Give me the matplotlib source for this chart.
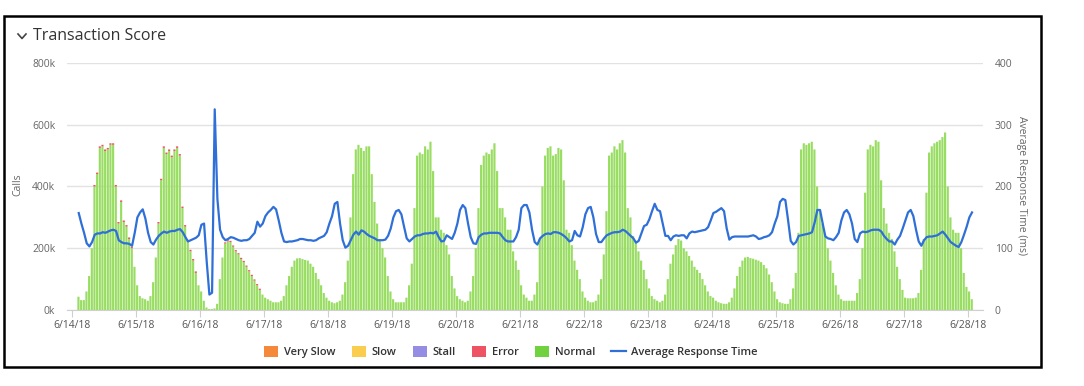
import matplotlib.pyplot as plt
import matplotlib.dates as mdates
from matplotlib.lines import Line2D
from matplotlib.patches import Patch, Rectangle
from matplotlib.ticker import FuncFormatter
import pandas as pd

plt.rcParams['font.family'] = ['Open Sans', 'DejaVu Sans']

# hourly calls (thousands), one row per day; first row starts at 6/14/18 02:00
calls_days = [
    [43, 32, 32, 60, 110, 200, 400, 440, 525, 530, 515, 520, 535, 535, 400, 280, 350, 285, 270, 230, 200, 140],
    [80, 45, 38, 35, 30, 45, 90, 170, 280, 420, 525, 505, 515, 495, 515, 525, 500, 330, 270, 220, 190, 160, 120, 80],
    [60, 30, 8, 3, 3, 5, 20, 100, 170, 215, 222, 220, 205, 190, 180, 165, 155, 140, 125, 110, 95, 80, 65, 50],
    [40, 35, 30, 25, 25, 25, 30, 45, 80, 110, 140, 160, 167, 168, 165, 162, 160, 150, 140, 120, 100, 80, 55, 40],
    [30, 25, 22, 25, 30, 50, 90, 160, 300, 440, 520, 535, 525, 515, 530, 530, 440, 350, 280, 230, 200, 170, 110, 60],
    [35, 25, 25, 25, 25, 40, 80, 150, 330, 500, 510, 505, 530, 520, 545, 450, 300, 300, 260, 250, 210, 180, 110, 70],
    [45, 35, 30, 25, 30, 60, 110, 200, 330, 470, 500, 510, 505, 520, 540, 450, 330, 330, 300, 260, 260, 190, 160, 130],
    [80, 50, 40, 30, 30, 50, 90, 230, 400, 500, 525, 530, 500, 505, 525, 520, 420, 260, 250, 210, 160, 130, 100, 60],
    [40, 30, 25, 25, 30, 50, 100, 180, 320, 500, 510, 530, 520, 540, 550, 510, 330, 300, 240, 220, 190, 160, 130, 100],
    [70, 45, 35, 30, 25, 30, 50, 100, 150, 180, 210, 230, 225, 200, 190, 175, 160, 140, 130, 120, 100, 80, 60, 45],
    [40, 30, 25, 22, 20, 20, 25, 40, 70, 110, 140, 160, 170, 172, 168, 166, 163, 160, 155, 146, 135, 115, 90, 60],
    [35, 25, 22, 20, 20, 35, 70, 120, 250, 520, 540, 535, 540, 545, 520, 400, 320, 280, 240, 200, 160, 120, 80, 50],
    [35, 30, 30, 30, 30, 30, 55, 100, 200, 380, 520, 535, 530, 550, 545, 420, 330, 280, 250, 230, 190, 140, 100, 65],
    [40, 38, 38, 38, 40, 55, 130, 230, 380, 510, 530, 540, 545, 550, 560, 575, 400, 300, 260, 250, 250, 200, 120, 75],
    [60, 35],
]

# average response time (ms), same hours
resp_days = [
    [157, 140, 125, 108, 103, 110, 122, 124, 124, 126, 125, 127, 129, 130, 128, 113, 110, 108, 108, 107, 104, 125],
    [150, 158, 163, 148, 125, 110, 106, 114, 120, 124, 127, 125, 127, 128, 128, 130, 131, 126, 118, 111, 113, 115, 117, 121],
    [138, 140, 78, 25, 28, 325, 180, 130, 118, 113, 115, 118, 117, 115, 113, 112, 113, 113, 115, 120, 125, 143, 135, 140],
    [152, 158, 162, 167, 163, 145, 125, 111, 110, 111, 111, 112, 113, 115, 115, 114, 113, 113, 112, 113, 116, 118, 120, 126],
    [140, 152, 172, 175, 140, 113, 101, 104, 113, 122, 127, 122, 129, 127, 123, 120, 118, 116, 113, 113, 113, 114, 120, 132],
    [150, 160, 162, 155, 135, 116, 111, 115, 119, 121, 121, 123, 124, 124, 125, 124, 127, 118, 111, 112, 121, 118, 115, 125],
    [140, 162, 170, 165, 140, 118, 108, 107, 118, 122, 124, 124, 125, 125, 125, 125, 124, 118, 113, 111, 111, 111, 118, 130],
    [165, 170, 170, 158, 130, 110, 106, 116, 120, 123, 124, 123, 126, 126, 125, 123, 120, 116, 111, 113, 128, 121, 119, 134],
    [155, 165, 167, 150, 123, 110, 110, 116, 121, 123, 125, 126, 126, 127, 130, 128, 124, 120, 116, 109, 112, 124, 136, 138],
    [147, 160, 172, 162, 160, 140, 120, 120, 113, 119, 121, 120, 121, 121, 116, 124, 127, 126, 127, 128, 129, 130, 134, 145],
    [157, 159, 162, 165, 160, 132, 114, 118, 119, 119, 119, 119, 119, 119, 120, 121, 119, 115, 116, 118, 119, 121, 126, 140],
    [152, 175, 180, 178, 146, 112, 106, 110, 120, 121, 122, 123, 124, 126, 142, 162, 162, 140, 119, 116, 115, 113, 118, 125],
    [145, 158, 162, 155, 140, 115, 110, 124, 127, 126, 127, 129, 130, 130, 130, 127, 120, 115, 111, 111, 106, 114, 120, 132],
    [145, 158, 162, 152, 130, 111, 104, 113, 118, 119, 119, 120, 121, 124, 127, 122, 116, 110, 107, 104, 102, 110, 122, 135],
    [150, 158],
]

# runs of red error caps: (first bar, last bar, calls in thousands)
error_runs = [(6, 20, 5), (30, 44, 5), (55, 68, 4)]

legend_names = ['Very Slow', 'Slow', 'Stall', 'Error', 'Normal']
legend_colors = ['#f5893b', '#fbcd4f', '#948de3', '#ee5364', '#6fd23e']

calls = [v * 1000 for day in calls_days for v in day]
resp = [v for day in resp_days for v in day]
errors = [0] * len(calls)
for a, b, v in error_runs:
    for i in range(a, b + 1):
        errors[i] = v * 1000

start = pd.Timestamp('2018-06-14 02:00')
t = mdates.date2num(pd.date_range(start, periods=len(calls), freq='h').to_pydatetime())
tr = mdates.date2num(pd.date_range(start, periods=len(resp), freq='h').to_pydatetime()) + 0.5 / 24

W, H = 1084, 386
fig = plt.figure(figsize=(W / 100, H / 100), dpi=100)
ax = fig.add_axes([67 / W, 76 / H, 916 / W, 247 / H])

ax.bar(t, calls, width=0.8 / 24, align='edge', color='#98dc62', lw=0, zorder=2, snap=False)
ax.bar(t, errors, bottom=calls, width=0.8 / 24, align='edge', color='#ee5364', lw=0, zorder=2, snap=False)
ax.set_ylim(0, 800000)
ax.set_yticks(range(0, 800001, 200000))
ax.yaxis.set_major_formatter(FuncFormatter(lambda v, p: f'{int(v / 1000)}k'))
ax.grid(axis='y', color='#e2e2e2', lw=1)
ax.set_axisbelow(True)
for s in ['top', 'right', 'left']:
    ax.spines[s].set_visible(False)
ax.spines['bottom'].set_color('#cfcfcf')

x0 = mdates.date2num(pd.Timestamp('2018-06-14'))
ax.set_xlim(x0 - 1.9 / 24, x0 + 14.234)
ax.xaxis.set_major_locator(mdates.DayLocator())


def day_label(v, p):
    d = mdates.num2date(v)
    return f'{d.month}/{d.day}/{d:%y}'


ax.xaxis.set_major_formatter(FuncFormatter(day_label))
ax.tick_params(axis='x', length=5, color='#cfcfcf', labelsize=7.5, labelcolor='#555555', pad=2)
ax.tick_params(axis='y', length=0, labelsize=7.5, labelcolor='#666666', pad=8.5)

ax2 = ax.twinx()
ax2.plot(tr, resp, color='#2f6fd8', lw=1.6, zorder=3)
ax2.set_ylim(0, 400)
ax2.set_yticks([0, 100, 200, 300, 400])
for s in ['top', 'right', 'left', 'bottom']:
    ax2.spines[s].set_visible(False)
ax2.tick_params(axis='y', length=0, labelsize=7.5, labelcolor='#666666', pad=8.5)

fig.text(18 / W, 1 - 185 / H, 'Calls', rotation=90, ha='center', va='center',
         fontsize=7.5, color='#666666')
fig.text(1022 / W, 1 - 185 / H, 'Average Response Time (ms)', rotation=270,
         ha='center', va='center', fontsize=7.5, color='#666666')

# title with chevron
fig.add_artist(Line2D([18 / W, 22 / W, 26 / W], [1 - 34 / H, 1 - 38.5 / H, 1 - 34 / H],
                      color='#444444', lw=1.2))
fig.text(33 / W, 1 - 36 / H, 'Transaction Score', ha='left', va='center',
         fontsize=11.5, color='#333333', fontweight='medium')

handles = [Patch(facecolor=c, edgecolor='none') for c in legend_colors]
handles.append(Line2D([0], [0], color='#2f6fd8', lw=1.6))
fig.legend(handles, legend_names + ['Average Response Time'], loc='center',
           bbox_to_anchor=(511 / W, 1 - 352 / H), ncol=6, frameon=False,
           handlelength=1.3, handleheight=1.1, columnspacing=1.45,
           handletextpad=0.5, prop={'weight': 'semibold', 'size': 8},
           labelcolor='#333333')

fig.add_artist(Rectangle((4 / W, 1 - 367 / H), 1037 / W, 351 / H, transform=fig.transFigure,
                         fill=False, ec='black', lw=1.8))

fig.savefig('out.png', dpi=100)
